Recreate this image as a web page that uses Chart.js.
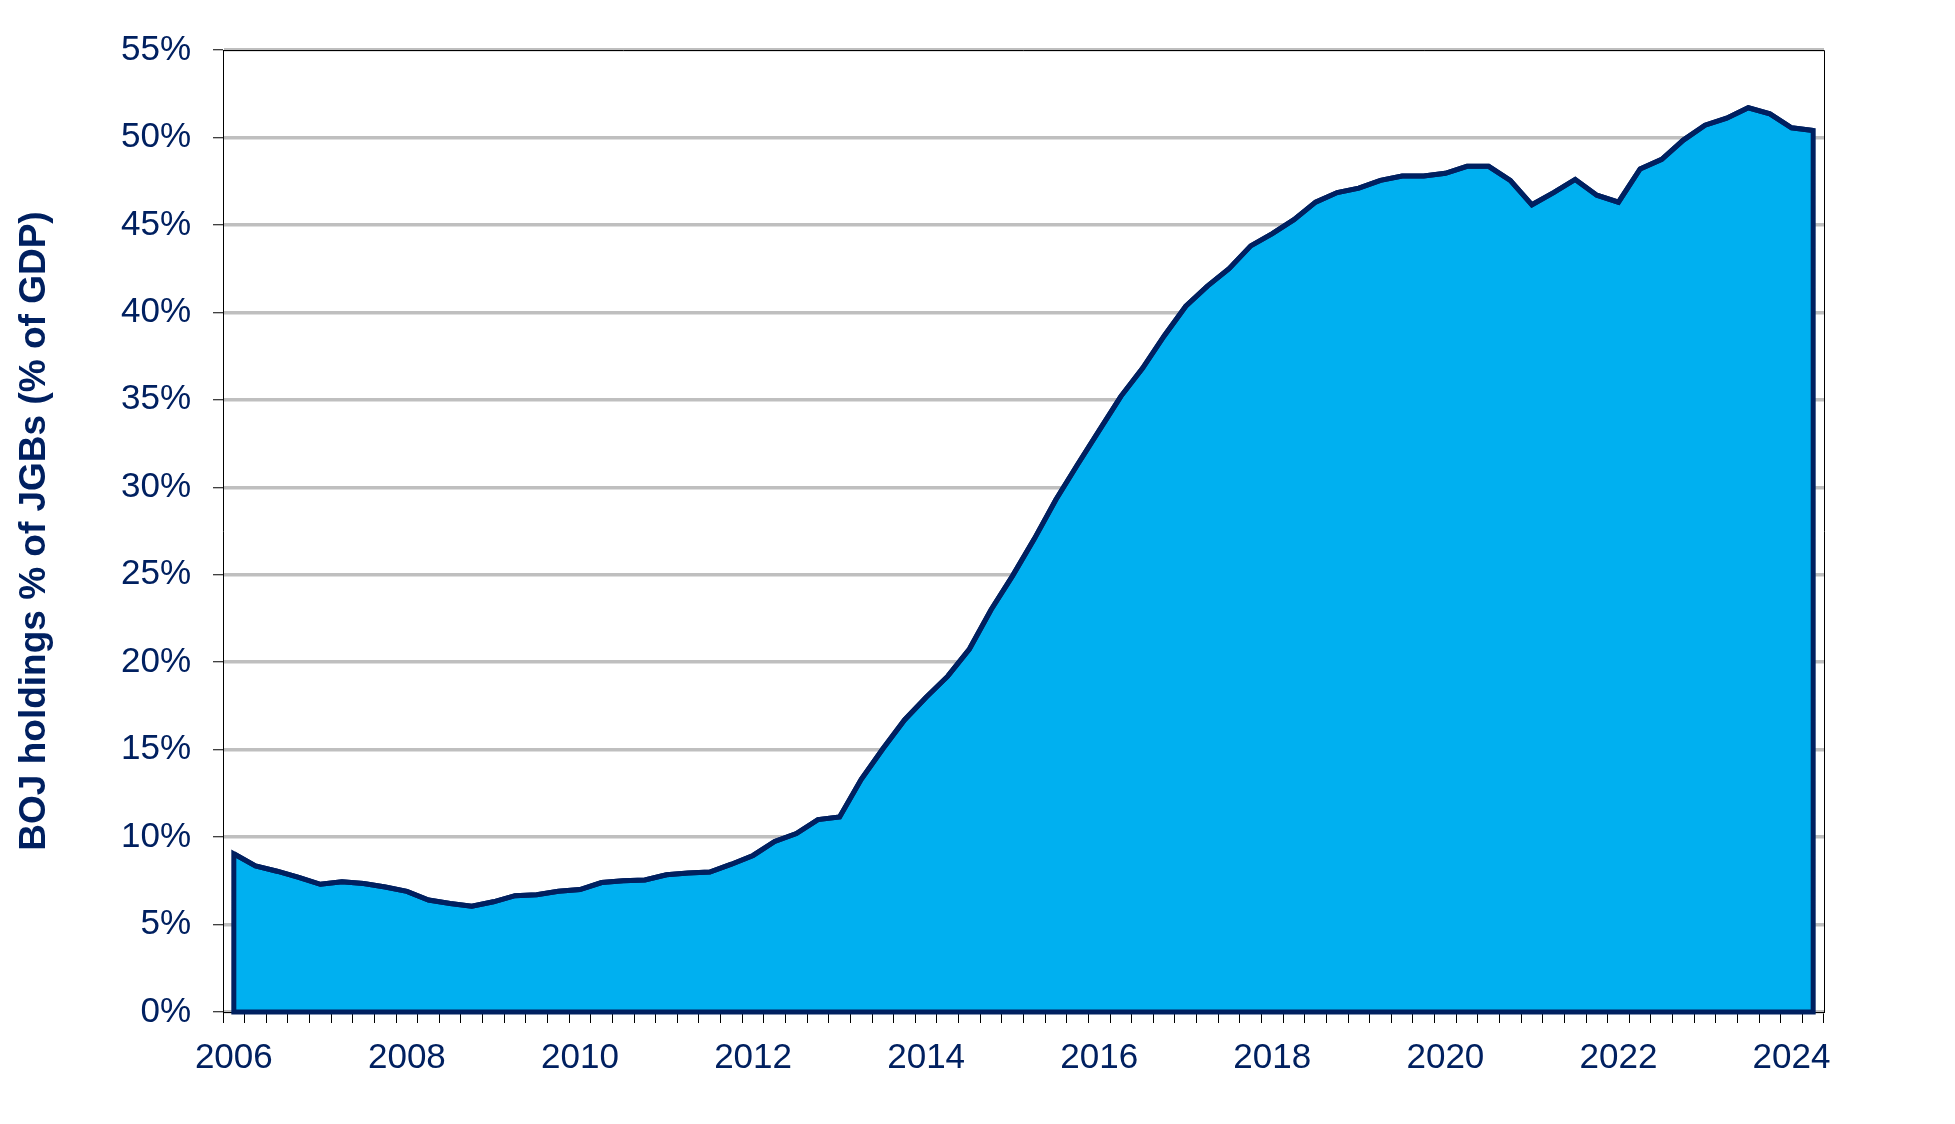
<!DOCTYPE html>
<html>
<head>
  <script src="https://cdn.jsdelivr.net/npm/chart.js"></script>
  <style>
    body { margin:0; background:#ffffff; }
    #wrap { width:1955px; height:1124px; }
  </style>
</head>
<body>
<div id="wrap">
  <canvas id="myChart" width="1955" height="1124"></canvas>
</div>
<script>
  // quarterly categories, 2006 Q1 .. 2024 Q2
  var quarters = [
    "2006Q1","2006Q2","2006Q3","2006Q4","2007Q1","2007Q2","2007Q3","2007Q4",
    "2008Q1","2008Q2","2008Q3","2008Q4","2009Q1","2009Q2","2009Q3","2009Q4",
    "2010Q1","2010Q2","2010Q3","2010Q4","2011Q1","2011Q2","2011Q3","2011Q4",
    "2012Q1","2012Q2","2012Q3","2012Q4","2013Q1","2013Q2","2013Q3","2013Q4",
    "2014Q1","2014Q2","2014Q3","2014Q4","2015Q1","2015Q2","2015Q3","2015Q4",
    "2016Q1","2016Q2","2016Q3","2016Q4","2017Q1","2017Q2","2017Q3","2017Q4",
    "2018Q1","2018Q2","2018Q3","2018Q4","2019Q1","2019Q2","2019Q3","2019Q4",
    "2020Q1","2020Q2","2020Q3","2020Q4","2021Q1","2021Q2","2021Q3","2021Q4",
    "2022Q1","2022Q2","2022Q3","2022Q4","2023Q1","2023Q2","2023Q3","2023Q4",
    "2024Q1","2024Q2"
  ];

  // BOJ holdings, % of GDP
  var bojHoldings = [
    9.05, 8.35, 8.05, 7.7, 7.3, 7.45, 7.35, 7.15,
    6.9, 6.4, 6.2, 6.05, 6.3, 6.65, 6.7, 6.9,
    7.0, 7.4, 7.5, 7.55, 7.85, 7.95, 8.0, 8.45,
    8.95, 9.75, 10.2, 11.0, 11.15, 13.3, 15.05, 16.7,
    18.0, 19.2, 20.75, 23.0, 24.95, 27.05, 29.3, 31.3,
    33.25, 35.2, 36.8, 38.65, 40.35, 41.5, 42.5, 43.8,
    44.5, 45.3, 46.3, 46.85, 47.1, 47.55, 47.8, 47.8,
    47.95, 48.35, 48.35, 47.55, 46.15, 46.85, 47.6, 46.7,
    46.3, 48.2, 48.75, 49.85, 50.7, 51.1, 51.7, 51.35,
    50.55, 50.4
  ];

  // years that get a label on the x axis (shown at Q1)
  var yearLabels = ["2006","2008","2010","2012","2014","2016","2018","2020","2022","2024"];

  var yTicks = [0, 5, 10, 15, 20, 25, 30, 35, 40, 45, 50, 55];

  var navy = "#002060";
  var fillBlue = "#00B0F0";

  // outline the whole area (left, top, right and bottom edges) like the excel area border
  var areaOutline = {
    id: "areaOutline",
    afterDatasetsDraw: function(chart) {
      var meta = chart.getDatasetMeta(0);
      var pts = meta.data;
      if (!pts.length) return;
      var yZero = chart.scales.y.getPixelForValue(0);
      var ctx = chart.ctx;
      ctx.save();
      ctx.beginPath();
      ctx.moveTo(pts[0].x, yZero);
      for (var i = 0; i < pts.length; i++) ctx.lineTo(pts[i].x, pts[i].y);
      ctx.lineTo(pts[pts.length-1].x, yZero);
      ctx.closePath();
      ctx.lineWidth = 5;
      ctx.strokeStyle = navy;
      ctx.lineJoin = "miter";
      ctx.stroke();
      ctx.restore();
    }
  };

  // thin black frame (top and right edges of the plot)
  var plotFrame = {
    id: "plotFrame",
    beforeDatasetsDraw: function(chart) {
      var a = chart.chartArea;
      var ctx = chart.ctx;
      ctx.save();
      ctx.strokeStyle = "#000000";
      ctx.lineWidth = 1;
      ctx.beginPath();
      ctx.moveTo(a.left, a.top + 0.5);
      ctx.lineTo(a.right + 0.5, a.top + 0.5);
      ctx.lineTo(a.right + 0.5, a.bottom);
      ctx.stroke();
      ctx.restore();
    }
  };

  var ctx = document.getElementById("myChart");
  new Chart(ctx, {
    type: "line",
    data: {
      labels: quarters,
      datasets: [{
        label: "BOJ holdings",
        data: bojHoldings,
        borderColor: navy,
        borderWidth: 5,
        backgroundColor: fillBlue,
        fill: "origin",
        pointRadius: 0,
        tension: 0
      }]
    },
    options: {
      responsive: false,
      animation: false,
      devicePixelRatio: 1,
      layout: { padding: { left: 0, right: 131, top: 50, bottom: 0 } },
      plugins: {
        legend: { display: false },
        tooltip: { enabled: false }
      },
      scales: {
        x: {
          type: "category",
          offset: true,
          afterFit: function(scale) { scale.height = 112; },
          grid: {
            offset: true,
            drawOnChartArea: false,
            drawTicks: true,
            tickLength: 11,
            tickColor: "#000000",
            tickWidth: 1
          },
          border: { display: true, color: "#000000", width: 1 },
          ticks: {
            autoSkip: false,
            maxRotation: 0,
            minRotation: 0,
            padding: 14,
            color: navy,
            font: { family: "'Liberation Sans', Arial, sans-serif", size: 35 },
            callback: function(value, index) {
              var q = quarters[index];
              var yr = q.substring(0, 4);
              if (q.substring(4) == "Q1" && yearLabels.indexOf(yr) >= 0) return yr;
              return "";
            }
          }
        },
        y: {
          min: 0,
          max: 55,
          afterFit: function(scale) { scale.width = 223; },
          afterBuildTicks: function(scale) {
            scale.ticks = yTicks.map(function(v) { return { value: v }; });
          },
          grid: {
            color: "#BFBFBF",
            lineWidth: 3.5,
            tickLength: 10,
            tickColor: "#000000",
            tickWidth: 1
          },
          border: { display: true, color: "#000000", width: 1 },
          ticks: {
            padding: 22,
            color: navy,
            font: { family: "'Liberation Sans', Arial, sans-serif", size: 35 },
            callback: function(v) { return v + "%"; }
          },
          title: {
            display: true,
            text: "BOJ holdings % of JGBs (% of GDP)",
            color: navy,
            padding: { top: 13, bottom: 0 },
            font: { family: "'Liberation Sans', Arial, sans-serif", size: 37, weight: "bold" }
          }
        }
      }
    },
    plugins: [plotFrame, areaOutline]
  });
</script>
</body>
</html>
